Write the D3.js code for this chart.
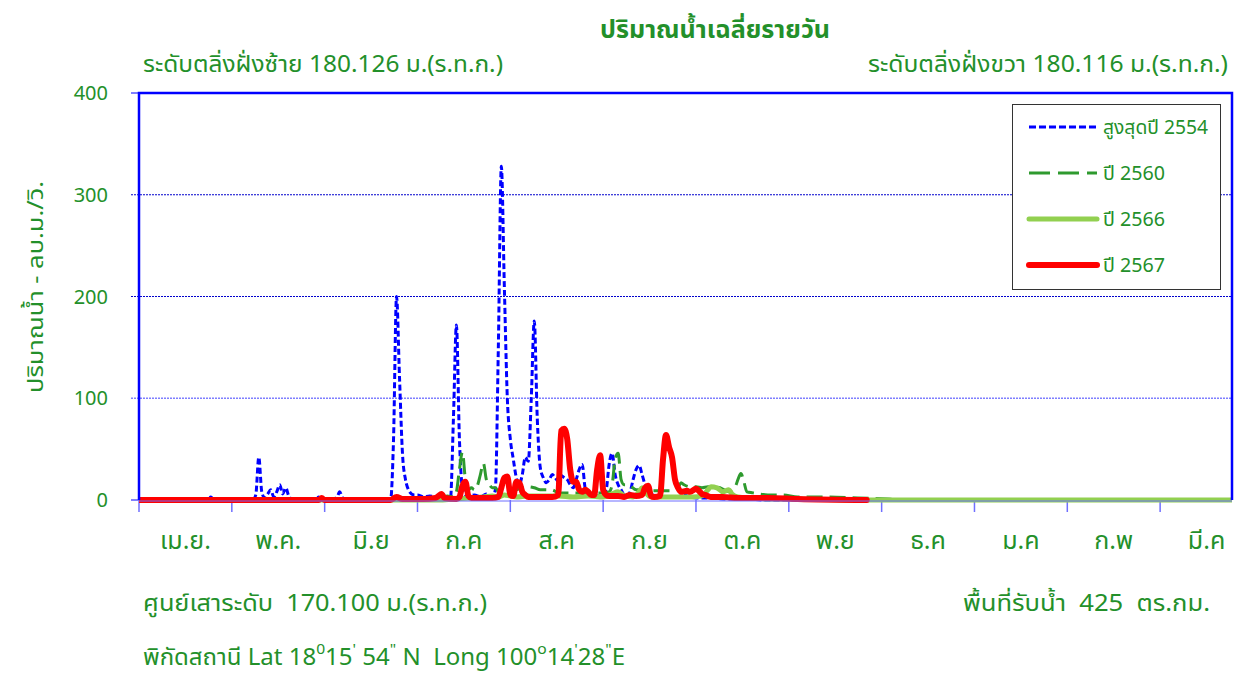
<!DOCTYPE html>
<html>
<head>
<meta charset="utf-8">
<script src="https://cdn.jsdelivr.net/npm/d3@7"></script>
<style>
  html, body { margin: 0; padding: 0; background: #fff; }
  svg { display: block; }
  text { font-family: "Noto Sans Thai", "Noto Sans", "DejaVu Sans", sans-serif; fill: #23902a; }
</style>
</head>
<body>
<svg id="chart" width="1239" height="675"></svg>
<script>
// ---------------- data ----------------
const monthLabels = ["เม.ย.", "พ.ค.", "มิ.ย", "ก.ค", "ส.ค", "ก.ย", "ต.ค", "พ.ย", "ธ.ค", "ม.ค", "ก.พ", "มี.ค"];
const yTicks = [0, 100, 200, 300, 400];
const seriesNames = ["สูงสุดปี 2554", "ปี 2560", "ปี 2566", "ปี 2567"];

// [day index from 1 Apr, discharge m3/s]
const max2554 = [[0,0],[23,0],[24,3],[25,0],[38,0],[39,5],[40,42],[41,8],[42,2],[43,6],[44,10],[45,3],[46,8],[47,15],[48,6],[49,12],[50,4],[51,1],[59,0],[60,3],[61,0],[66,2],[67,8],[68,2],[69,0],[84,0],[85,60],[86,200],[87,120],[88,45],[89,20],[90,10],[91,6],[92,5],[93,5],[95,3],[97,4],[100,2],[104,1],[105,80],[106,172],[107,60],[108,12],[109,5],[110,3],[112,5],[114,3],[116,6],[118,3],[119,10],[120,150],[121,328],[122,210],[123,100],[124,60],[125,40],[126,22],[127,15],[128,25],[129,42],[130,38],[131,100],[132,176],[133,80],[134,32],[135,22],[136,17],[137,20],[138,25],[139,22],[140,18],[141,24],[142,22],[143,20],[144,15],[145,12],[146,20],[147,30],[148,35],[149,12],[150,8],[151,5],[152,5],[153,4],[155,6],[156,10],[157,35],[158,46],[159,25],[160,15],[161,10],[162,5],[163,4],[164,8],[165,20],[166,30],[167,34],[168,25],[169,15],[170,10],[171,6],[173,4],[176,3],[180,3],[182,5],[184,3],[186,2],[190,2],[195,1],[200,1],[210,0],[365,0]];
const y2560 = [[0,0],[100,0],[101,2],[103,4],[105,3],[106,8],[107,30],[108,47],[109,20],[110,10],[111,12],[112,10],[113,14],[114,25],[115,36],[116,20],[117,15],[118,12],[119,12],[120,8],[122,5],[124,6],[126,10],[128,12],[130,13],[132,12],[134,10],[136,10],[138,10],[140,7],[145,7],[150,7],[155,7],[157,8],[158,15],[159,40],[160,46],[161,20],[162,15],[163,15],[164,14],[166,10],[168,10],[170,9],[172,9],[175,9],[178,9],[180,12],[181,17],[182,15],[184,13],[186,13],[188,12],[190,13],[192,13],[194,12],[196,9],[197,8],[199,12],[200,20],[201,26],[202,18],[203,8],[205,7],[207,6],[210,5],[215,5],[220,3],[230,3],[240,2],[250,1],[260,0],[365,0]];
const y2566 = [[0,0],[100,0],[105,1],[110,2],[115,3],[118,4],[120,3],[122,5],[124,4],[126,3],[130,4],[135,4],[140,4],[145,3],[150,4],[155,3],[158,6],[160,8],[162,4],[165,3],[167,8],[168,12],[169,8],[171,3],[175,3],[180,3],[185,3],[188,4],[190,10],[191,13],[193,12],[195,8],[197,10],[198,6],[200,3],[205,2],[210,1],[220,1],[240,0],[365,0]];
const y2567 = [[0,0],[60,0],[61,2],[62,0],[84,0],[86,3],[88,1],[95,1],[99,2],[100,4],[101,6],[102,2],[106,1],[107,3],[108,14],[109,18],[110,4],[111,2],[112,2],[115,2],[118,2],[120,3],[121,12],[122,22],[123,23],[124,5],[125,4],[126,18],[127,17],[128,8],[129,5],[130,3],[132,3],[135,3],[138,3],[140,5],[141,68],[142,70],[143,60],[144,30],[145,18],[146,18],[147,10],[148,8],[149,10],[150,8],[151,5],[152,5],[153,30],[154,44],[155,10],[156,5],[157,4],[160,4],[162,3],[164,5],[166,4],[168,5],[169,12],[170,14],[171,4],[172,3],[174,4],[175,40],[176,64],[177,52],[178,42],[179,20],[180,12],[181,8],[183,9],[184,8],[186,11],[187,9],[188,6],[189,5],[191,3],[195,3],[200,2],[210,2],[220,1],[243,0]];

const seriesData = [max2554, y2560, y2566, y2567];
const seriesStyle = [
  { color: "#0000ff", width: 3, dash: "6,3" },
  { color: "#2e9a2e", width: 3, dash: "16,7" },
  { color: "#92d050", width: 5, dash: null },
  { color: "#ff0000", width: 6, dash: null }
];

// ---------------- layout ----------------
const svg = d3.select("#chart");
const L = 139, R = 1232, T = 93, B = 500;
const x = d3.scaleLinear().domain([0, 365]).range([L, R]);
const y = d3.scaleLinear().domain([0, 400]).range([B, T]);

// gridlines
svg.append("g").selectAll("line").data(yTicks.filter(d => d > 0 && d < 400)).join("line")
  .attr("x1", L - 8).attr("x2", R).attr("y1", d => y(d)).attr("y2", d => y(d))
  .attr("stroke", d => d === 100 ? "#7f7fff" : "#0000cc")
  .attr("stroke-width", d => d === 100 ? 1.5 : 1)
  .attr("stroke-dasharray", "2,1");

// y ticks outside
svg.append("g").selectAll("line").data([0, 400]).join("line")
  .attr("x1", L - 8).attr("x2", L).attr("y1", d => y(d)).attr("y2", d => y(d))
  .attr("stroke", "#0000ff").attr("stroke-width", 1);

// y tick labels
svg.append("g").selectAll("text").data(yTicks).join("text")
  .attr("x", 108).attr("y", d => y(d)).attr("dy", "0.35em")
  .attr("text-anchor", "end").attr("font-size", 20).text(d => d);

// x axis ticks
const monthTicks = d3.range(0, 12).map(i => i * 31);
svg.append("g").selectAll("line").data(monthTicks).join("line")
  .attr("x1", d => x(d)).attr("x2", d => x(d)).attr("y1", B).attr("y2", B + 12)
  .attr("stroke", "#6f6fff").attr("stroke-width", 1.5);

svg.append("g").selectAll("text").data(monthLabels).join("text")
  .attr("x", (d, i) => x(i * 31 + 15.5)).attr("y", 540).attr("dy", "0.35em")
  .attr("text-anchor", "middle").attr("font-size", 25).text(d => d);

// series
const line = d3.line().x(d => x(d[0])).y(d => y(d[1])).curve(d3.curveMonotoneX);
const clip = svg.append("clipPath").attr("id", "plotclip");
clip.append("rect").attr("x", L).attr("y", T).attr("width", R - L).attr("height", B - T + 4);
const gSeries = svg.append("g").attr("clip-path", "url(#plotclip)");
seriesData.forEach((data, i) => {
  const s = seriesStyle[i];
  gSeries.append("path").datum(data).attr("d", line)
    .attr("fill", "none").attr("stroke", s.color).attr("stroke-width", s.width)
    .attr("stroke-linejoin", "round").attr("stroke-linecap", s.dash ? "butt" : "round")
    .attr("stroke-dasharray", s.dash);
});

// plot frame
svg.append("path")
  .attr("d", `M${L},${B}V${T}H${R}V${B}`)
  .attr("fill", "none").attr("stroke", "#0000ff").attr("stroke-width", 2.5);
svg.append("line").attr("x1", L).attr("x2", R).attr("y1", B + 1).attr("y2", B + 1)
  .attr("stroke", "#6f6fff").attr("stroke-width", 1);

// legend
const lg = svg.append("g");
lg.append("rect").attr("x", 1012.5).attr("y", 104.5).attr("width", 208).attr("height", 185)
  .attr("fill", "#fff").attr("stroke", "#333").attr("stroke-width", 1);
const legY = [127, 173, 219, 265];
const legLen = [105, 62, 62, 62];
seriesNames.forEach((n, i) => {
  const s = seriesStyle[i];
  lg.append("line").attr("x1", 1029).attr("x2", 1097).attr("y1", legY[i]).attr("y2", legY[i])
    .attr("stroke", s.color).attr("stroke-width", s.width)
    .attr("stroke-linecap", s.dash ? "butt" : "round")
    .attr("stroke-dasharray", i === 1 ? "21,8" : (i === 0 ? "7,3" : null));
  lg.append("text").attr("x", 1103).attr("y", legY[i]).attr("dy", "0.35em")
    .attr("font-size", 19).attr("textLength", legLen[i]).attr("lengthAdjust", "spacingAndGlyphs").text(n);
});

// helper for text with fixed width
function label(xp, yp, str, size, width, anchor, bold) {
  const t = svg.append("text").attr("x", xp).attr("y", yp).attr("dy", "0.35em")
    .attr("font-size", size).attr("text-anchor", anchor || "start")
    .attr("xml:space", "preserve").text(str);
  if (width) t.attr("textLength", width).attr("lengthAdjust", "spacingAndGlyphs");
  if (bold) t.attr("font-weight", "bold");
  return t;
}

// titles
label(715, 30, "ปริมาณน้ำเฉลี่ยรายวัน", 24, 230, "middle", true);
label(143, 64, "ระดับตลิ่งฝั่งซ้าย 180.126 ม.(ร.ท.ก.)", 23, 360);
label(1228, 64, "ระดับตลิ่งฝั่งขวา 180.116 ม.(ร.ท.ก.)", 23, 360, "end");
svg.append("text").attr("transform", "translate(35,287) rotate(-90)").attr("dy", "0.35em")
  .attr("text-anchor", "middle").attr("font-size", 22)
  .attr("textLength", 212).attr("lengthAdjust", "spacingAndGlyphs").text("ปริมาณน้ำ - ลบ.ม./วิ.");

// footer
label(143, 603, "ศูนย์เสาระดับ  170.100 ม.(ร.ท.ก.)", 23, 344);
label(1210, 603, "พื้นที่รับน้ำ  425  ตร.กม.", 23, 247, "end");
const coord = svg.append("text").attr("x", 143).attr("y", 657).attr("dy", "0.35em")
  .attr("font-size", 23).attr("xml:space", "preserve")
  .attr("textLength", 482).attr("lengthAdjust", "spacingAndGlyphs");
const parts = [["พิกัดสถานี Lat 18", false], ["0", true], ["15", false], ["'", true], [" 54", false], ["\"", true], [" N  Long 100", false], ["o", true], ["14", false], ["'", true], ["28", false], ["\"", true], ["E", false]];
parts.forEach(([t, sup], i) => {
  const ts = coord.append("tspan").text(t);
  if (sup) ts.attr("font-size", 15).attr("dy", -11);
  else if (i > 0) ts.attr("dy", 11);
});
</script>
</body>
</html>
